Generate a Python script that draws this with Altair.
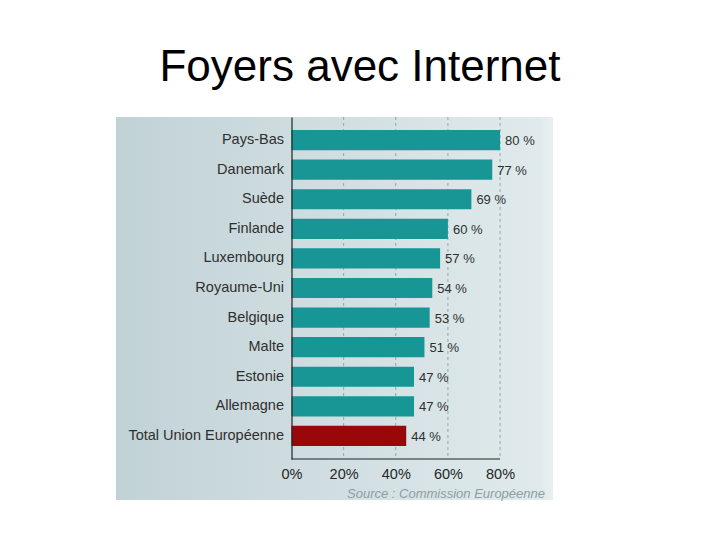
import altair as alt
import pandas as pd

title = "Foyers avec Internet"
countries = ["Pays-Bas", "Danemark", "Suède", "Finlande", "Luxembourg",
             "Royaume-Uni", "Belgique", "Malte", "Estonie", "Allemagne",
             "Total Union Européenne"]
values = [80, 77, 69, 60, 57, 54, 53, 51, 47, 47, 44]
groups = ["pays"] * 10 + ["total"]
ticks = [0, 20, 40, 60, 80]
source = "Source : Commission Européenne"

W, H = 437, 383
BAND_H = 342

df = pd.DataFrame({"pays": countries, "valeur": values, "groupe": groups})
df["etiquette"] = [f"{v} %" for v in values]
grid_df = pd.DataFrame({"t": ticks[1:]})
base_df = pd.DataFrame({"a": [ticks[0]], "b": [ticks[-1]]})
src_df = pd.DataFrame({"s": [source]})
bg_df = pd.DataFrame({"k": [0]})

xscale = alt.Scale(domain=[-67.3, 100.3], nice=False, zero=False)
yscale = alt.Scale(domain=countries, range=[0, BAND_H], paddingInner=0.32, paddingOuter=0.44)

xaxis = alt.Axis(values=ticks, labelExpr="datum.value + '%'", title=None,
                 domain=False, ticks=False, grid=False, offset=-(H - BAND_H),
                 labelFont="Liberation Sans", labelFontSize=14.5, zindex=2,
                 labelColor="#262626", labelPadding=8, labelFlush=False)
yaxis = alt.Axis(title=None, ticks=False, grid=False, domain=True, zindex=2,
                 domainColor="#222222", domainWidth=1.2,
                 offset=-175.5, labelPadding=8, labelLimit=300,
                 labelFont="Liberation Sans", labelFontSize=14.5,
                 labelColor="#2f2f2f")

gradient = alt.LinearGradient(
    gradient="linear",
    stops=[alt.GradientStop(offset=0, color="#c1d2d6"),
           alt.GradientStop(offset=0.97, color="#e0eaec"),
           alt.GradientStop(offset=1, color="#e8f0f1")],
    x1=0, x2=1, y1=0, y2=0)

bg = alt.Chart(bg_df).mark_rect(color=gradient).encode(
    x=alt.value(0), x2=alt.value(W), y=alt.value(0), y2=alt.value(H))

grid = alt.Chart(grid_df).mark_rule(color="#94a7ab", strokeDash=[3, 3], strokeWidth=1).encode(
    x=alt.X("t:Q", scale=xscale, axis=xaxis), y=alt.value(0), y2=alt.value(BAND_H))

baseline = alt.Chart(base_df).mark_rule(color="#222222", strokeWidth=1.2).encode(
    x=alt.X("a:Q", scale=xscale, axis=xaxis), x2="b:Q", y=alt.value(BAND_H))

bars = alt.Chart(df).mark_bar().encode(
    x=alt.X("valeur:Q", scale=xscale, axis=xaxis),
    x2=alt.datum(0),
    y=alt.Y("pays:N", sort=countries, scale=yscale, axis=yaxis),
    color=alt.Color("groupe:N", scale=alt.Scale(domain=["pays", "total"],
                                                range=["#189595", "#990808"]), legend=None),
)

labels = alt.Chart(df).mark_text(align="left", baseline="middle", dx=5, dy=1,
                                 font="Liberation Sans", fontSize=13, color="#2f2f2f").encode(
    x=alt.X("valeur:Q", scale=xscale, axis=xaxis),
    y=alt.Y("pays:N", sort=countries, scale=yscale, axis=yaxis),
    text="etiquette:N")

src = alt.Chart(src_df).mark_text(align="right", baseline="middle", font="Liberation Sans",
                                  fontSize=13, fontStyle="italic", color="#8d9ea3").encode(
    x=alt.value(W - 8), y=alt.value(H - 6), text="s:N")

chart = alt.layer(bg, grid, bars, baseline, labels, src).properties(
    width=W, height=H,
    title=alt.TitleParams(title, font="Liberation Sans", fontSize=44, fontWeight="normal",
                          color="#000000", anchor="middle", dx=25.5, offset=-8,
                          baseline="alphabetic"),
    autosize=alt.AutoSizeParams(type="none"),
    padding={"left": 108, "top": 109, "right": 10, "bottom": 10},
).configure_view(stroke=None)

chart.save("out.html", embed_options={"renderer": "svg", "actions": False})
